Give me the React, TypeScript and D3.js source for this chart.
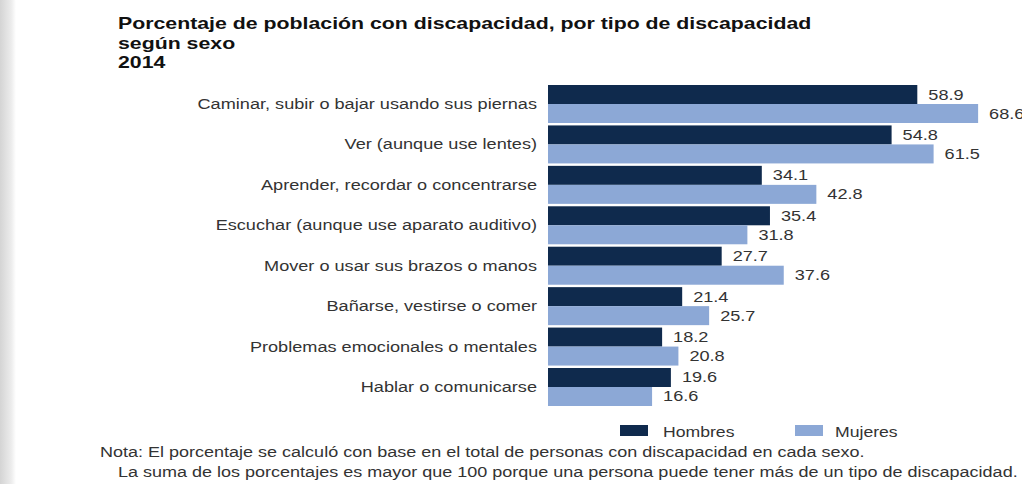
import React from 'react';
import * as d3 from 'd3';

// Datos (porcentajes)
const categorias = [
  'Caminar, subir o bajar usando sus piernas',
  'Ver (aunque use lentes)',
  'Aprender, recordar o concentrarse',
  'Escuchar (aunque use aparato auditivo)',
  'Mover o usar sus brazos o manos',
  'Bañarse, vestirse o comer',
  'Problemas emocionales o mentales',
  'Hablar o comunicarse',
];
const hombres = [58.9, 54.8, 34.1, 35.4, 27.7, 21.4, 18.2, 19.6];
const mujeres = [68.6, 61.5, 42.8, 31.8, 37.6, 25.7, 20.8, 16.6];
const series = ['Hombres', 'Mujeres'];
const titulo = [
  'Porcentaje de población con discapacidad, por tipo de discapacidad',
  'según sexo',
  '2014',
];
const notas = [
  'Nota: El porcentaje se calculó con base en el total de personas con discapacidad en cada sexo.',
  'La suma de los porcentajes es mayor que 100 porque una persona puede tener más de un tipo de discapacidad.',
];

const W = 1022;
const H = 484;
const colores = ['#0f2a4d', '#8ca8d6'];
const FONT = '"Liberation Sans", Arial, sans-serif';
const SX = 1.26; // la imagen original está estirada horizontalmente

const T = ({ x, y, anchor = 'start', size = 14, weight = 400, fill = '#333', children }: any) => (
  <text
    transform={`translate(${x},${y}) scale(${SX},1)`}
    textAnchor={anchor}
    fontFamily={FONT}
    fontSize={size}
    fontWeight={weight}
    fill={fill}
  >
    {children}
  </text>
);

export default function App() {
  const x = d3.scaleLinear().domain([0, 70]).range([548, 548 + 70 * 6.27]);
  const y = d3.scaleBand<number>()
    .domain(d3.range(categorias.length))
    .range([85, 406])
    .paddingInner(0.06)
    .paddingOuter(0);
  const ySub = d3.scaleBand<number>().domain([0, 1]).range([0, y.bandwidth()]);
  const valores = [hombres, mujeres];

  return (
    <div style={{ position: 'fixed', left: 0, top: 0, width: W, height: H, background: '#fff' }}>
      <svg width={W} height={H}>
        <defs>
          <linearGradient id="borde" x1="0" x2="1" y1="0" y2="0">
            <stop offset="0" stopColor="#d4d4d4" />
            <stop offset="0.7" stopColor="#ececec" />
            <stop offset="1" stopColor="#ffffff" />
          </linearGradient>
        </defs>
        <rect x={0} y={0} width={W} height={H} fill="#fff" />
        <rect x={0} y={0} width={16} height={H} fill="url(#borde)" />

        {titulo.map((t, i) => (
          <T key={t} x={118} y={29 + i * 19.5} size={16.9} weight={700} fill="#111">
            {t}
          </T>
        ))}

        {categorias.map((c, i) => (
          <T key={c} x={537} y={(y(i) as number) + y.bandwidth() / 2 + 5} anchor="end" size={14.4}>
            {c}
          </T>
        ))}

        {valores.map((vals, s) =>
          vals.map((v, i) => {
            const top = (y(i) as number) + (ySub(s) as number);
            return (
              <g key={`${s}-${i}`}>
                <rect
                  x={x(0)}
                  y={top}
                  width={x(v) - x(0)}
                  height={ySub.bandwidth()}
                  fill={colores[s]}
                />
                <T x={x(v) + 11} y={top + ySub.bandwidth() / 2 + 5} size={14.4}>
                  {d3.format('.1f')(v)}
                </T>
              </g>
            );
          })
        )}

        {series.map((s, i) => (
          <g key={s}>
            <rect x={620 + i * 175} y={425} width={28} height={11} fill={colores[i]} />
            <T x={663 + i * 172} y={437}>{s}</T>
          </g>
        ))}

        <T x={100} y={457} size={14.3}>{notas[0]}</T>
        <T x={118} y={477} size={14.3}>{notas[1]}</T>
      </svg>
    </div>
  );
}
